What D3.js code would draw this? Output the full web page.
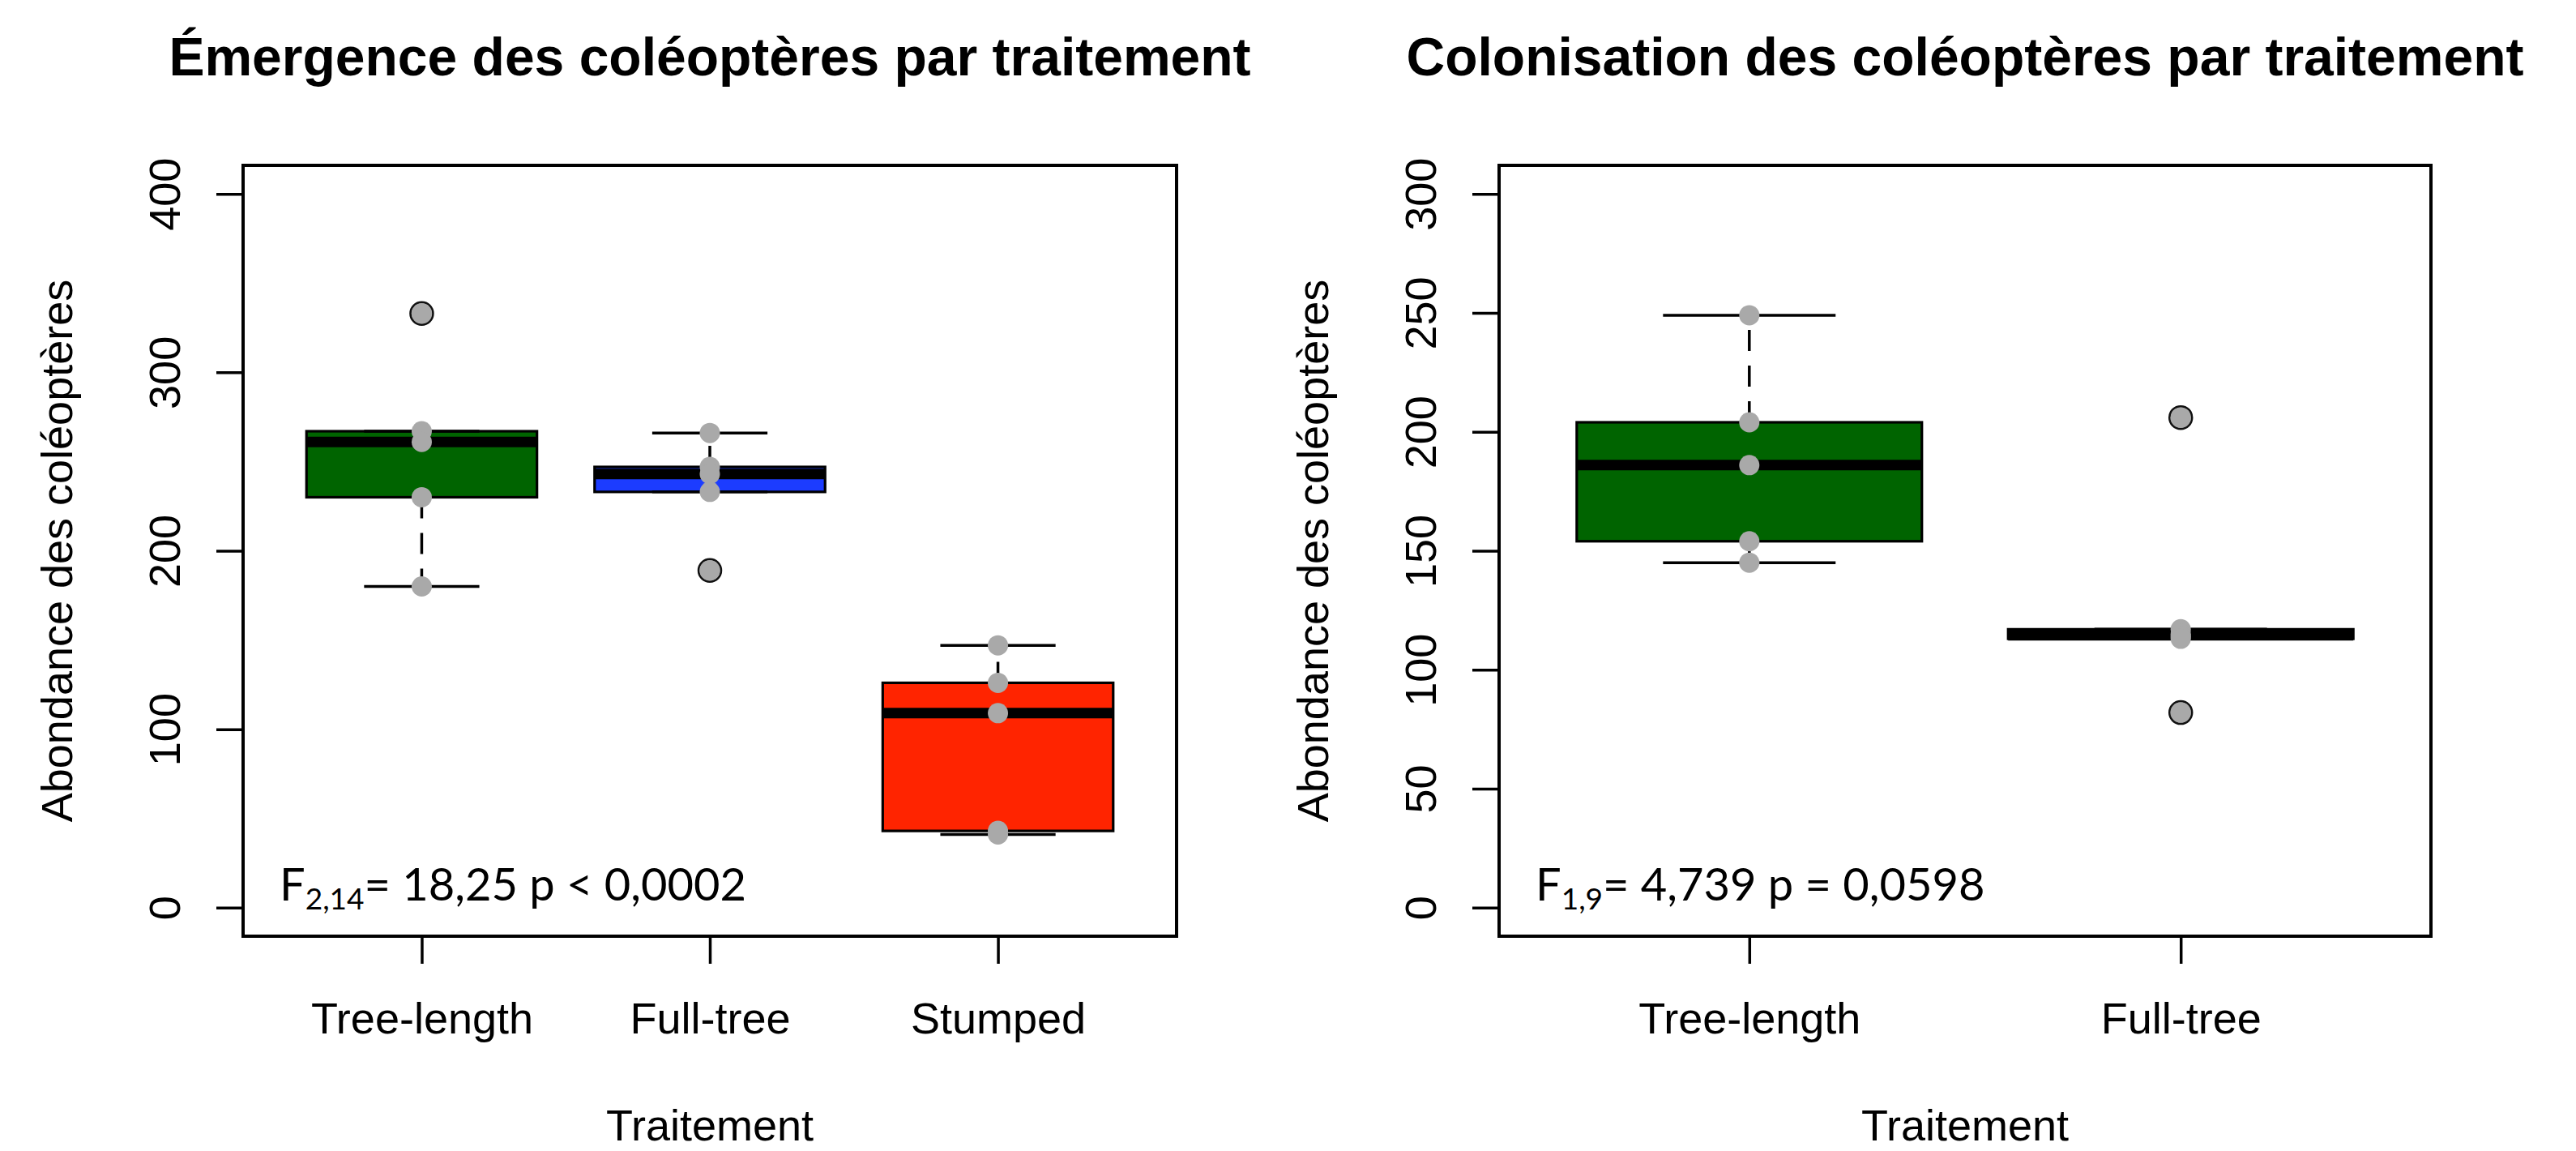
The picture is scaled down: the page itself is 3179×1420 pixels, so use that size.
<!DOCTYPE html>
<html lang="fr">
<head>
<meta charset="UTF-8">
<title>Coléoptères par traitement</title>
<script src="https://cdnjs.cloudflare.com/ajax/libs/d3/7.8.5/d3.min.js"></script>
<style>
  body { margin: 0; background: #fff; }
  svg { display: block; background: #fff; }
  .lbl { font-family: "Liberation Sans", Arial, sans-serif; font-size: 54px; fill: #000; }
  .title { font-family: "Liberation Sans", Arial, sans-serif; font-size: 66px; font-weight: bold; fill: #000; }
  .stat { font-family: Lato, "Open Sans", sans-serif; font-size: 56px; fill: #000; }
</style>
</head>
<body>
<svg id="chart" width="3179" height="1420"></svg>
<script>
// Émergence (gauche)
const emergenceGroups = ["Tree-length", "Full-tree", "Stumped"];
const emergenceTreeLength = [333, 267, 261, 230, 180];
const emergenceFullTree = [266, 247, 243, 233, 189];
const emergenceStumped = [147, 126, 109, 43, 41];
const emergenceTicks = [0, 100, 200, 300, 400];
const emergenceStat = ["F", "2,14", "= 18,25 p < 0,0002"];

// Colonisation (droite)
const colonisationGroups = ["Tree-length", "Full-tree"];
const colonisationTreeLength = [249, 204, 186, 154, 145];
const colonisationFullTree = [206, 117, 115, 114, 113, 82];
const colonisationTicks = [0, 50, 100, 150, 200, 250, 300];
const colonisationStat = ["F", "1,9", "= 4,739 p = 0,0598"];

const boxColors = ["#006400", "#1c3cff", "#ff2400"];

const svg = d3.select("#chart");
const plotTop = 204, plotBottom = 1155;

// quartiles de Tukey, comme fivenum() de R
function fivenum(v) {
  const x = v.slice().sort(d3.ascending), n = x.length;
  const n4 = Math.floor((n + 3) / 2) / 2;
  return [1, n4, (n + 1) / 2, n + 1 - n4, n]
    .map(d => 0.5 * (x[Math.floor(d) - 1] + x[Math.ceil(d) - 1]));
}

function boxStats(v) {
  const [, lo, med, hi] = fivenum(v);
  const reach = 1.5 * (hi - lo);
  const inside = v.filter(d => d >= lo - reach && d <= hi + reach);
  return {
    lo, med, hi,
    wLo: d3.min(inside), wHi: d3.max(inside),
    out: v.filter(d => d < lo - reach || d > hi + reach)
  };
}

function drawPanel({ left, right, title, groups, series, ticks, stat }) {
  const n = groups.length;
  const [y0, y1] = d3.extent(ticks);
  const pad = 0.04 * (y1 - y0);
  const y = d3.scaleLinear().domain([y0 - pad, y1 + pad]).range([plotBottom, plotTop]);
  const x = d3.scaleLinear()
    .domain([0.5 - 0.04 * n, n + 0.5 + 0.04 * n])
    .range([left, right]);

  const g = svg.append("g");

  series.forEach((values, i) => {
    const s = boxStats(values);
    const cx = i + 1;
    const bg = g.append("g");

    bg.append("rect")
      .attr("x", x(cx - 0.4))
      .attr("width", x(cx + 0.4) - x(cx - 0.4))
      .attr("y", y(s.hi))
      .attr("height", y(s.lo) - y(s.hi))
      .attr("fill", boxColors[i])
      .attr("stroke", "#000")
      .attr("stroke-width", 3.2);

    bg.append("line")
      .attr("x1", x(cx - 0.4)).attr("x2", x(cx + 0.4))
      .attr("y1", y(s.med)).attr("y2", y(s.med))
      .attr("stroke", "#000").attr("stroke-width", 13);

    [[s.hi, s.wHi], [s.lo, s.wLo]].forEach(([a, b]) => {
      bg.append("line")
        .attr("x1", x(cx)).attr("x2", x(cx))
        .attr("y1", y(a)).attr("y2", y(b))
        .attr("stroke", "#000").attr("stroke-width", 3.5)
        .attr("stroke-dasharray", "26,18");
      bg.append("line")
        .attr("x1", x(cx - 0.2)).attr("x2", x(cx + 0.2))
        .attr("y1", y(b)).attr("y2", y(b))
        .attr("stroke", "#000").attr("stroke-width", 3.5);
    });

    bg.selectAll(".out").data(s.out).join("circle")
      .attr("class", "out")
      .attr("cx", x(cx)).attr("cy", d => y(d)).attr("r", 14)
      .attr("fill", "#a6a6a6").attr("stroke", "#111").attr("stroke-width", 2.5);

    bg.selectAll(".pt").data(values).join("circle")
      .attr("class", "pt")
      .attr("cx", x(cx)).attr("cy", d => y(d)).attr("r", 12.5)
      .attr("fill", "#a9a9a9");
  });

  // cadre
  g.append("rect")
    .attr("x", left).attr("y", plotTop)
    .attr("width", right - left).attr("height", plotBottom - plotTop)
    .attr("fill", "none").attr("stroke", "#000").attr("stroke-width", 4);

  const ya = g.append("g")
    .attr("transform", `translate(${left},0)`)
    .call(d3.axisLeft(y).tickValues(ticks).tickSize(33).tickSizeOuter(0));
  ya.select(".domain").remove();
  ya.selectAll(".tick line").attr("stroke-width", 3.5);
  ya.selectAll(".tick text")
    .attr("class", "lbl")
    .attr("x", null).attr("dy", null)
    .attr("text-anchor", "middle")
    .attr("transform", "translate(-78,0) rotate(-90)");

  const xa = g.append("g")
    .attr("transform", `translate(0,${plotBottom})`)
    .call(d3.axisBottom(x)
      .tickValues(groups.map((d, i) => i + 1))
      .tickFormat(i => groups[i - 1])
      .tickSize(34).tickSizeOuter(0));
  xa.select(".domain").remove();
  xa.selectAll(".tick line").attr("stroke-width", 3.5);
  xa.selectAll(".tick text")
    .attr("class", "lbl")
    .attr("dy", null).attr("y", 120);

  const mid = (left + right) / 2;

  g.append("text").attr("class", "title")
    .attr("x", mid).attr("y", 93).attr("text-anchor", "middle")
    .text(title);

  g.append("text").attr("class", "lbl")
    .attr("x", mid).attr("y", 1407).attr("text-anchor", "middle")
    .text("Traitement");

  g.append("text").attr("class", "lbl")
    .attr("text-anchor", "middle")
    .attr("transform", `translate(${left - 211},${(plotTop + plotBottom) / 2}) rotate(-90)`)
    .text("Abondance des coléoptères");

  const st = g.append("text").attr("class", "stat")
    .attr("x", left + 45).attr("y", 1111);
  st.append("tspan").text(stat[0]);
  st.append("tspan").attr("font-size", "37px").attr("dy", 11).text(stat[1]);
  st.append("tspan").attr("dy", -11).text(stat[2]);
}

drawPanel({
  left: 300, right: 1452,
  title: "Émergence des coléoptères par traitement",
  groups: emergenceGroups,
  series: [emergenceTreeLength, emergenceFullTree, emergenceStumped],
  ticks: emergenceTicks,
  stat: emergenceStat
});

drawPanel({
  left: 1850, right: 3000,
  title: "Colonisation des coléoptères par traitement",
  groups: colonisationGroups,
  series: [colonisationTreeLength, colonisationFullTree],
  ticks: colonisationTicks,
  stat: colonisationStat
});
</script>
</body>
</html>
